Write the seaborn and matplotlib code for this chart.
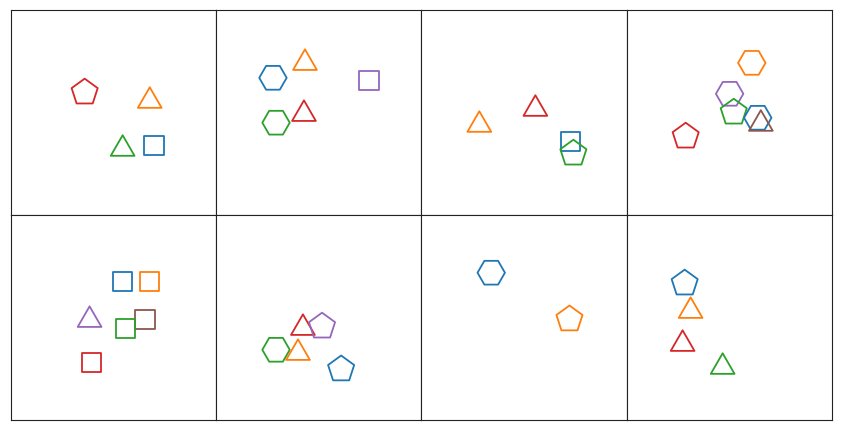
import matplotlib
matplotlib.use("Agg")
import matplotlib.pyplot as plt
import seaborn as sns
import pandas as pd

# ---- data ----
panel = [0, 0, 0, 0,
         1, 1, 1, 1, 1,
         2, 2, 2, 2,
         3, 3, 3, 3, 3, 3,
         4, 4, 4, 4, 4, 4,
         5, 5, 5, 5, 5,
         6, 6,
         7, 7, 7, 7]
xs = [0.361, 0.678, 0.546, 0.698,
      0.278, 0.434, 0.746, 0.293, 0.429,
      0.283, 0.556, 0.727, 0.741,
      0.610, 0.502, 0.522, 0.639, 0.654, 0.288,
      0.546, 0.678, 0.385, 0.654, 0.561, 0.395,
      0.424, 0.517, 0.293, 0.400, 0.610,
      0.341, 0.722,
      0.283, 0.312, 0.273, 0.468]
ys = [0.597, 0.555, 0.321, 0.337,
      0.668, 0.740, 0.654, 0.449, 0.491,
      0.438, 0.516, 0.356, 0.299,
      0.741, 0.590, 0.499, 0.473, 0.443, 0.382,
      0.673, 0.673, 0.486, 0.488, 0.444, 0.278,
      0.447, 0.455, 0.341, 0.325, 0.246,
      0.717, 0.490,
      0.665, 0.530, 0.369, 0.257]
colors = ["red", "orange", "green", "blue",
          "blue", "orange", "purple", "green", "red",
          "orange", "red", "blue", "green",
          "orange", "purple", "green", "blue", "brown", "red",
          "blue", "orange", "purple", "brown", "green", "red",
          "red", "purple", "green", "orange", "blue",
          "blue", "orange",
          "blue", "orange", "red", "green"]
shapes = ["pentagon", "triangle", "triangle", "square",
          "hexagon", "triangle", "square", "hexagon", "triangle",
          "triangle", "triangle", "square", "pentagon",
          "hexagon", "hexagon", "pentagon", "hexagon", "triangle", "pentagon",
          "square", "square", "triangle", "square", "square", "square",
          "triangle", "pentagon", "hexagon", "triangle", "pentagon",
          "hexagon", "pentagon",
          "pentagon", "triangle", "triangle", "triangle"]

df = pd.DataFrame({"panel": panel, "x": xs, "y": ys, "color": colors, "shape": shapes})

palette = {"blue": "#1f77b4", "orange": "#ff7f0e", "green": "#2ca02c",
           "red": "#d62728", "purple": "#9467bd", "brown": "#8c564b"}
marker_map = {"triangle": (3, 0, 0), "square": (4, 0, 45),
              "pentagon": (5, 0, 0), "hexagon": "H"}

sns.set_style("white")
fig, axes = plt.subplots(2, 4, figsize=(8.42, 4.31), dpi=100)
fig.subplots_adjust(left=0.0125, right=0.988, top=0.975, bottom=0.024,
                    wspace=0, hspace=0)

for i, ax in enumerate(axes.flat):
    sub = df[df["panel"] == i]
    sns.scatterplot(data=sub, x="x", y="y", hue="color", style="shape",
                    palette=palette, markers=marker_map, s=390,
                    linewidth=1.3, legend=False, ax=ax)
    for coll in ax.collections:
        fc = coll.get_facecolors()
        coll.set_edgecolors(fc)
        coll.set_facecolors("none")
    ax.set_xlim(0, 1)
    ax.set_ylim(0, 1)
    ax.set_xticks([])
    ax.set_yticks([])
    ax.set_xlabel("")
    ax.set_ylabel("")
    for sp in ax.spines.values():
        sp.set_color("#222222")
        sp.set_linewidth(0.8)

fig.savefig("out.png", dpi=100)
